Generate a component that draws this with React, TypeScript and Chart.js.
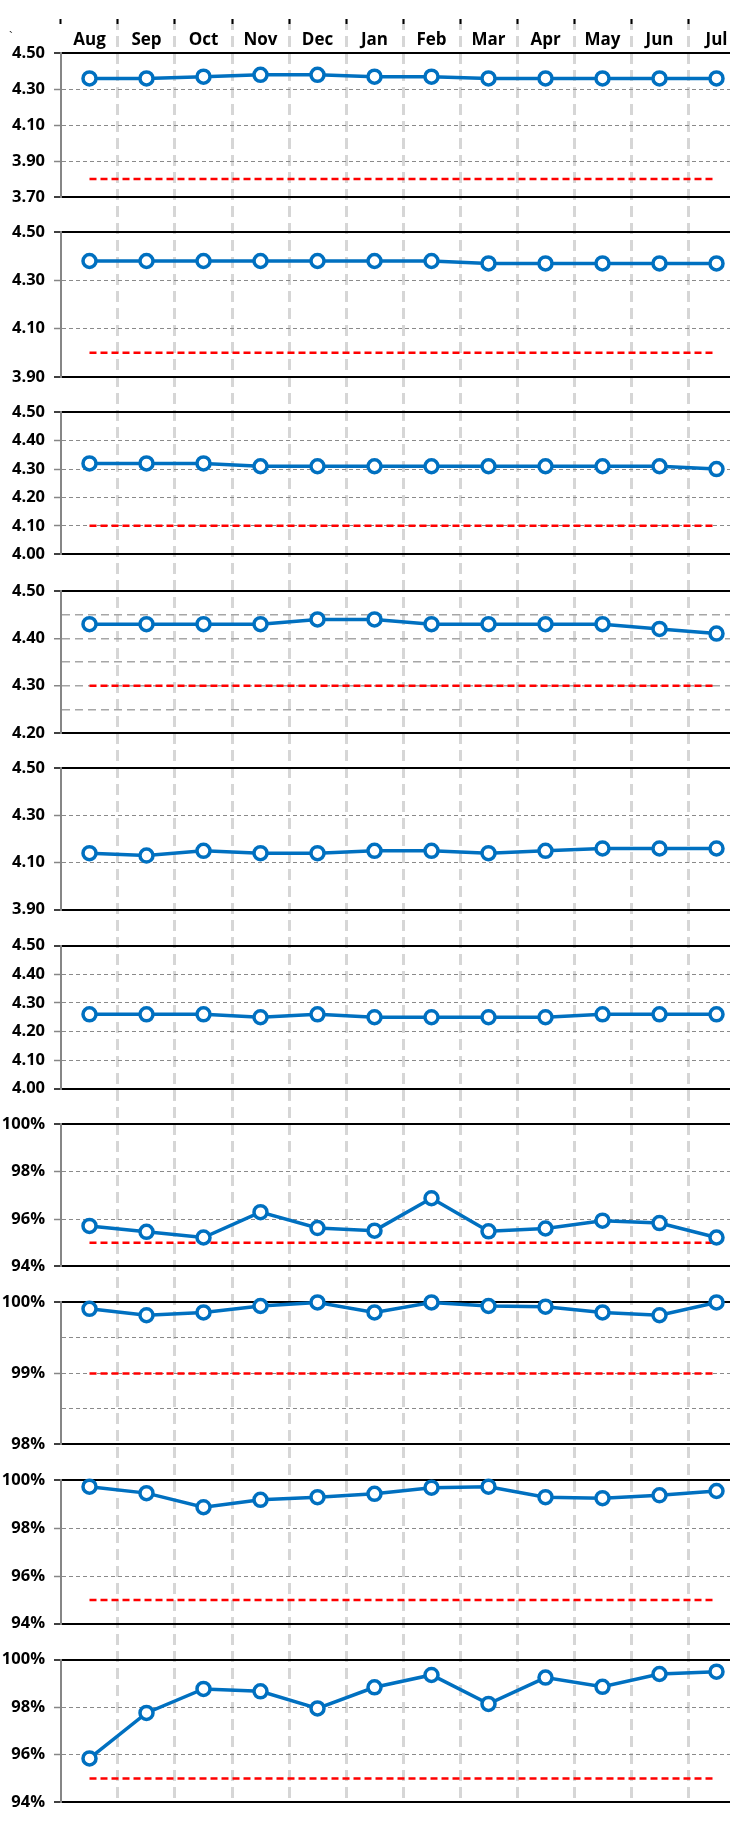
import React, { useEffect, useRef } from "react";
import { Chart, registerables } from "chart.js";

Chart.register(...registerables);

// ---------- data ----------
const months = ["Aug", "Sep", "Oct", "Nov", "Dec", "Jan", "Feb", "Mar", "Apr", "May", "Jun", "Jul"];

const series1 = [4.36, 4.36, 4.37, 4.38, 4.38, 4.37, 4.37, 4.36, 4.36, 4.36, 4.36, 4.36];
const series2 = [4.38, 4.38, 4.38, 4.38, 4.38, 4.38, 4.38, 4.37, 4.37, 4.37, 4.37, 4.37];
const series3 = [4.32, 4.32, 4.32, 4.31, 4.31, 4.31, 4.31, 4.31, 4.31, 4.31, 4.31, 4.3];
const series4 = [4.43, 4.43, 4.43, 4.43, 4.44, 4.44, 4.43, 4.43, 4.43, 4.43, 4.42, 4.41];
const series5 = [4.14, 4.13, 4.15, 4.14, 4.14, 4.15, 4.15, 4.14, 4.15, 4.16, 4.16, 4.16];
const series6 = [4.26, 4.26, 4.26, 4.25, 4.26, 4.25, 4.25, 4.25, 4.25, 4.26, 4.26, 4.26];
const series7 = [95.71, 95.46, 95.22, 96.29, 95.62, 95.51, 96.88, 95.48, 95.6, 95.93, 95.83, 95.22];
const series8 = [99.91, 99.82, 99.86, 99.95, 100, 99.86, 100, 99.95, 99.94, 99.86, 99.82, 100];
const series9 = [99.74, 99.47, 98.88, 99.19, 99.3, 99.44, 99.7, 99.74, 99.3, 99.26, 99.38, 99.56];
const series10 = [95.84, 97.76, 98.77, 98.67, 97.95, 98.84, 99.36, 98.14, 99.25, 98.86, 99.4, 99.5];

const panelSeries = [series1, series2, series3, series4, series5, series6, series7, series8, series9, series10];

// target (red dashed) lines; null = none shown
const targets = [3.8, 4.0, 4.1, 4.3, null, null, 95, 99, 95, 95];

// y scales
const yMins = [3.7, 3.9, 4.0, 4.2, 3.9, 4.0, 94, 98, 94, 94];
const yMaxs = [4.5, 4.5, 4.5, 4.5, 4.5, 4.5, 100, 100, 100, 100];
const gridSteps = [0.2, 0.2, 0.1, 0.05, 0.2, 0.1, 2, 0.5, 2, 2];
const labelSteps = [0.2, 0.2, 0.1, 0.1, 0.2, 0.1, 2, 1, 2, 2];
const percentPanels = [false, false, false, false, false, false, true, true, true, true];

// ---------- layout (pixel heights of the stacked panels and gaps) ----------
const headerHeight = 35;
const panelHeights = [146, 147.3, 144.3, 144.3, 143.7, 145.4, 144.3, 144.3, 145.7, 144.7];
const gapHeights = [35.7, 36, 37.4, 36, 36.6, 36.3, 36.7, 36.7, 36.6];

const FONT = "'Open Sans', 'Noto Sans', sans-serif";
const BLUE = "#0070c0";
const RED = "#ff0000";
const AXIS_W = 61;

function buildConfig(): any {
  const scales: any = {};

  scales.x = {
    type: "category",
    position: { hdr: 1 },
    offset: true,
    grid: {
      offset: true,
      color: (c: any) => (c.index === 0 ? "rgba(0,0,0,0)" : "#d6d6d6"),
      lineWidth: 3,
      drawTicks: true,
      tickLength: 5,
      tickColor: "#000",
      tickWidth: 2,
      tickBorderDash: [],
    },
    border: { display: false, dash: [11, 6] },
    ticks: {
      autoSkip: false,
      maxRotation: 0,
      minRotation: 0,
      padding: 6,
      color: "#000",
      font: { family: FONT, weight: "bold", size: 17 },
    },
  };

  const spacer = (weight: number, h: number) => ({
    type: "linear",
    position: "left",
    stack: "v",
    stackWeight: h,
    weight,
    min: 0,
    max: 1,
    afterFit: (s: any) => {
      s.width = AXIS_W;
    },
    ticks: { display: false },
    grid: { display: false },
    border: { display: false },
  });

  scales.hdr = spacer(100, headerHeight);

  panelSeries.forEach((_, i) => {
    const min = yMins[i];
    const max = yMaxs[i];
    const lstep = labelSteps[i];
    const pct = percentPanels[i];
    const isExtreme = (c: any) =>
      c && c.tick && (Math.abs(c.tick.value - min) < 1e-6 || Math.abs(c.tick.value - max) < 1e-6);
    const isLabel = (v: number) => {
      const k = (v - min) / lstep;
      return Math.abs(k - Math.round(k)) < 1e-6;
    };
    const longDash = i === 3;
    const gridCol = longDash ? "#a6a6a6" : "#8a8a8a";
    const dash = longDash ? [8, 5] : [4, 3];

    scales[`y${i}`] = {
      type: "linear",
      position: "left",
      stack: "v",
      stackWeight: panelHeights[i],
      weight: 99 - 2 * i,
      min,
      max,
      afterFit: (s: any) => {
        s.width = AXIS_W;
      },
      ticks: {
        stepSize: gridSteps[i],
        autoSkip: false,
        padding: 9,
        color: "#000",
        font: { family: FONT, weight: "bold", size: 16.5 },
        callback: (v: number) => {
          if (!isLabel(v)) return "";
          return pct ? `${Math.round(v)}%` : Number(v).toFixed(2);
        },
      },
      grid: {
        color: (c: any) => (isExtreme(c) ? "#000" : gridCol),
        lineWidth: (c: any) => (isExtreme(c) ? 2 : longDash ? 1.5 : 1),
        drawTicks: true,
        tickLength: 7,
        tickWidth: 1.5,
        tickColor: (c: any) =>
          c && c.tick && isLabel(c.tick.value) ? (isExtreme(c) ? "#000" : "#868686") : "rgba(0,0,0,0)",
        tickBorderDash: [],
        borderDash: (c: any) => (isExtreme(c) ? [] : dash),
      },
      border: {
        display: true,
        color: "#868686",
        width: 2,
        dash: (c: any) => (isExtreme(c) ? [] : dash),
      },
    };

    if (i < gapHeights.length) {
      scales[`g${i}`] = spacer(98 - 2 * i, gapHeights[i]);
    }
  });

  const datasets: any[] = [];
  panelSeries.forEach((vals, i) => {
    datasets.push({
      label: `series${i + 1}`,
      data: vals,
      xAxisID: "x",
      yAxisID: `y${i}`,
      borderColor: BLUE,
      borderWidth: 3.5,
      pointRadius: 6.5,
      pointBorderWidth: 3.5,
      pointBackgroundColor: "#ffffff",
      pointBorderColor: BLUE,
      tension: 0,
      fill: false,
      clip: false,
      order: 0,
    });
  });
  targets.forEach((t, i) => {
    if (t === null) return;
    datasets.push({
      label: `target${i + 1}`,
      data: months.map(() => t),
      xAxisID: "x",
      yAxisID: `y${i}`,
      borderColor: RED,
      borderWidth: 2.5,
      borderDash: [7, 4],
      pointRadius: 0,
      fill: false,
      clip: false,
      order: 1,
    });
  });

  return {
    type: "line",
    data: { labels: months, datasets },
    options: {
      responsive: false,
      maintainAspectRatio: false,
      animation: false,
      layout: { padding: { top: 0, right: 15, bottom: 8, left: 0 } },
      plugins: {
        legend: { display: false },
        tooltip: { enabled: false },
        title: { display: false },
      },
      scales,
    },
  };
}

export default function App() {
  const ref = useRef<HTMLCanvasElement>(null);
  useEffect(() => {
    if (!ref.current) return;
    const chart = new Chart(ref.current, buildConfig());
    return () => chart.destroy();
  }, []);
  return (
    <div
      style={{
        position: "absolute",
        left: 0,
        top: 0,
        width: 730,
        height: 1821,
        overflow: "hidden",
        background: "#ffffff",
      }}
    >
      <canvas ref={ref} width={760} height={1821} style={{ display: "block", width: 760, height: 1821 }} />
      <span
        style={{
          position: "absolute",
          left: 9,
          top: 30,
          fontSize: 13,
          fontFamily: FONT,
          color: "#333",
          lineHeight: 1,
        }}
      >
        `
      </span>
    </div>
  );
}
